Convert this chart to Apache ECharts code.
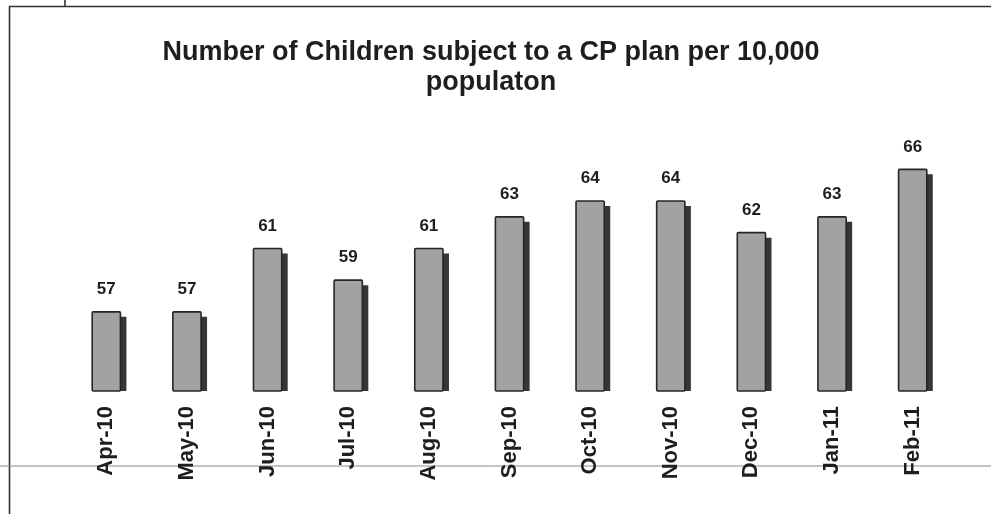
<!DOCTYPE html>
<html>
<head>
<meta charset="utf-8">
<script src="https://cdn.jsdelivr.net/npm/echarts@6/dist/echarts.min.js"></script>
<style>
html,body{margin:0;padding:0;background:#fff;}
#chart{width:991px;height:514px;}
</style>
</head>
<body>
<div id="chart"></div>
<script>
const categories = ['Apr-10','May-10','Jun-10','Jul-10','Aug-10','Sep-10','Oct-10','Nov-10','Dec-10','Jan-11','Feb-11'];
const values = [57, 57, 61, 59, 61, 63, 64, 64, 62, 63, 66];
const titleText = 'Number of Children subject to a CP plan per 10,000\npopulaton';
const yMin = 52;
const yMax = 70;

const chart = echarts.init(document.getElementById('chart'));
const font = 'Liberation Sans, Arial, sans-serif';

chart.setOption({
  animation: false,
  backgroundColor: '#ffffff',
  title: {
    text: titleText,
    left: 486,
    textAlign: 'center',
    top: 33,
    textStyle: {fontFamily: font, fontSize: 27, fontWeight: 'bold', color: '#1e1e1e', lineHeight: 30}
  },
  graphic: [
    {type: 'rect', shape: {x: 9.5, y: 6.5, width: 1100, height: 600}, style: {fill: 'none', stroke: '#333', lineWidth: 1.6}, silent: true, z: -1},
    {type: 'line', shape: {x1: 65, y1: 0, x2: 65, y2: 6.5}, style: {stroke: '#333', lineWidth: 1.6}, silent: true},
    {type: 'line', shape: {x1: 0, y1: 466, x2: 991, y2: 466}, style: {stroke: '#8a8a8a', lineWidth: 1}, silent: true, z: -1}
  ],
  grid: {left: 66, right: 38, top: 106, bottom: 123, containLabel: false},
  xAxis: {
    type: 'category',
    data: categories,
    axisLine: {show: false},
    axisTick: {show: false},
    axisLabel: {rotate: 90, margin: 15, fontFamily: font, fontSize: 22, fontWeight: 'bold', color: '#1e1e1e', interval: 0}
  },
  yAxis: {
    type: 'value', min: yMin, max: yMax, show: false, splitLine: {show: false}
  },
  series: [{
    type: 'custom',
    data: categories.map((c, i) => [i, values[i]]),
    renderItem: function (params, api) {
      const top = api.coord([api.value(0), api.value(1)]);
      const base = api.coord([api.value(0), yMin]);
      const band = api.size([1, 0])[0];
      const w = band * 0.35;
      const x0 = top[0] - w / 2;
      const h = base[1] - top[1];
      return {
        type: 'group',
        children: [
          {type: 'rect', shape: {x: x0 + 6, y: top[1] + 5, width: w, height: h - 5}, style: {fill: '#363636'}},
          {type: 'rect', shape: {x: x0, y: top[1], width: w, height: h, r: 1}, style: {fill: '#a2a2a2', stroke: '#262626', lineWidth: 1.6}},
          {type: 'text', style: {x: top[0], y: top[1] - 14, text: String(api.value(1)), align: 'center', verticalAlign: 'bottom', fontFamily: font, fontSize: 17, fontWeight: 'bold', fill: '#1e1e1e'}}
        ]
      };
    }
  }]
});
</script>
</body>
</html>
